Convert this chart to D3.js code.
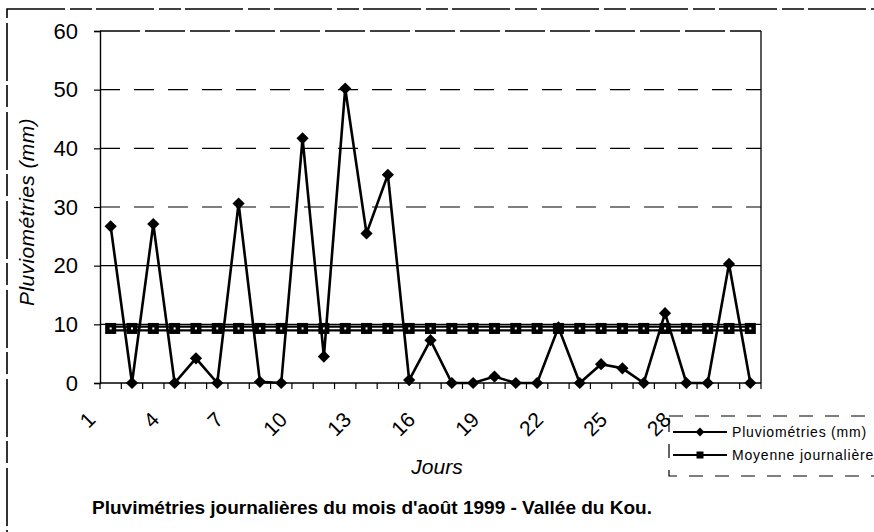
<!DOCTYPE html>
<html>
<head>
<meta charset="utf-8">
<script src="https://cdn.jsdelivr.net/npm/d3@7"></script>
<style>
  html, body { margin: 0; padding: 0; background: #fff; }
  svg { display: block; font-family: Arial, "Liberation Sans", sans-serif; }
</style>
</head>
<body>
<svg id="chart" width="874" height="532"></svg>
<script>
// Daily rainfall, August 1999, Vallée du Kou
const days = ["1","2","3","4","5","6","7","8","9","10","11","12","13","14","15","16",
              "17","18","19","20","21","22","23","24","25","26","27","28","29","30","31"];
const pluvio = [26.7, 0, 27.1, 0, 4.2, 0, 30.6, 0.2, 0, 41.7, 4.5, 50.2, 25.5, 35.5, 0.5, 7.3,
                0, 0, 1.1, 0, 0, 9.5, 0, 3.2, 2.5, 0, 11.9, 0, 0, 20.3, 0];
const moyenne = [9.3, 9.3, 9.3, 9.3, 9.3, 9.3, 9.3, 9.3, 9.3, 9.3, 9.3, 9.3, 9.3, 9.3, 9.3, 9.3,
                 9.3, 9.3, 9.3, 9.3, 9.3, 9.3, 9.3, 9.3, 9.3, 9.3, 9.3, 9.3, 9.3, 9.3, 9.3];
const xLabels = ["1","4","7","10","13","16","19","22","25","28"];
const yTicks = [0, 10, 20, 30, 40, 50, 60];
const seriesNames = ["Pluviométries (mm)", "Moyenne journalière"];

const svg = d3.select("#chart");
const plot = { left: 100, right: 761, top: 31, bottom: 383 };

const x = d3.scaleBand().domain(days).range([plot.left, plot.right]).padding(0);
const y = d3.scaleLinear().domain([0, 60]).range([plot.bottom, plot.top]);
const cx = d => x(d) + x.bandwidth() / 2;

// outer chart frame
svg.append("rect")
  .attr("x", 7).attr("y", 9).attr("width", 900).attr("height", 560)
  .attr("fill", "none").attr("stroke", "#000").attr("stroke-width", 1.6)
  .attr("stroke-dasharray", "58,5,22,4");

// horizontal gridlines
svg.append("g").selectAll("line")
  .data(yTicks.filter(v => v > 0))
  .join("line")
  .attr("x1", plot.left).attr("x2", plot.right)
  .attr("y1", d => y(d)).attr("y2", d => y(d))
  .attr("stroke", "#000").attr("stroke-width", d => d === 60 ? 1.4 : 1.1)
  .attr("stroke-dasharray", d => (d >= 30 && d < 60) ? "20,14" : (d === 60 ? "40,5" : null));

// right edge of the plot area
svg.append("line")
  .attr("x1", plot.right).attr("x2", plot.right)
  .attr("y1", plot.top).attr("y2", plot.bottom)
  .attr("stroke", "#000").attr("stroke-width", 1.3);

// y axis
const yAxis = svg.append("g")
  .attr("transform", `translate(${plot.left},0)`)
  .call(d3.axisLeft(y).tickValues(yTicks).tickSize(6).tickPadding(16).tickFormat(d3.format("d")));
yAxis.select(".domain").attr("stroke", "#000").attr("stroke-width", 1.4);
yAxis.selectAll(".tick line").attr("stroke", "#000").attr("stroke-width", 1.2);
yAxis.selectAll(".tick text")
  .attr("font-size", 22).attr("font-family", "Arial, 'Liberation Sans', sans-serif")
  .attr("fill", "#000");

// x axis line and category boundary ticks
svg.append("line")
  .attr("x1", plot.left).attr("x2", plot.right)
  .attr("y1", plot.bottom).attr("y2", plot.bottom)
  .attr("stroke", "#000").attr("stroke-width", 1.6);
svg.append("g").selectAll("line")
  .data(days.concat(["end"]))
  .join("line")
  .attr("x1", d => d === "end" ? plot.right : x(d))
  .attr("x2", d => d === "end" ? plot.right : x(d))
  .attr("y1", plot.bottom).attr("y2", plot.bottom + 6)
  .attr("stroke", "#000").attr("stroke-width", 1.2);

// rotated day labels
svg.append("g").selectAll("text")
  .data(xLabels)
  .join("text")
  .attr("transform", d => `translate(${cx(d) - 14},${plot.bottom + 38}) rotate(-45)`)
  .attr("text-anchor", "end")
  .attr("font-size", 21)
  .text(d => d);

// daily mean: double line with square markers
const meanLine = d3.line().x((d, i) => cx(days[i])).y(d => y(d));
svg.append("path").datum(moyenne)
  .attr("d", meanLine).attr("fill", "none")
  .attr("stroke", "#000").attr("stroke-width", 6);
svg.append("path").datum(moyenne)
  .attr("d", meanLine).attr("fill", "none")
  .attr("stroke", "#fff").attr("stroke-width", 1.6);
const sq = svg.append("g").selectAll("g")
  .data(moyenne)
  .join("g")
  .attr("transform", (d, i) => `translate(${cx(days[i])},${y(d)})`);
sq.append("rect").attr("x", -5.5).attr("y", -5.5).attr("width", 11).attr("height", 11).attr("fill", "#000");
sq.append("rect").attr("x", -1).attr("y", -1).attr("width", 2).attr("height", 2).attr("fill", "#fff");

// daily rainfall: line with diamond markers
const rainLine = d3.line().x((d, i) => cx(days[i])).y(d => y(d));
svg.append("path").datum(pluvio)
  .attr("d", rainLine).attr("fill", "none")
  .attr("stroke", "#000").attr("stroke-width", 2.6).attr("stroke-linejoin", "miter");
const diamond = d3.symbol().type(d3.symbolDiamond2).size(95);
svg.append("g").selectAll("path")
  .data(pluvio)
  .join("path")
  .attr("d", diamond)
  .attr("transform", (d, i) => `translate(${cx(days[i])},${y(d)})`)
  .attr("fill", "#000");

// axis titles
svg.append("text")
  .attr("transform", `translate(34,${(plot.top + plot.bottom) / 2 + 5}) rotate(-90)`)
  .attr("text-anchor", "middle")
  .attr("font-size", 21).attr("font-style", "italic").attr("letter-spacing", 0.4)
  .text("Pluviométries (mm)");
svg.append("text")
  .attr("x", 437).attr("y", 474)
  .attr("text-anchor", "middle")
  .attr("font-size", 21).attr("font-style", "italic")
  .text("Jours");

// chart title
svg.append("text")
  .attr("x", 372).attr("y", 514)
  .attr("text-anchor", "middle")
  .attr("font-size", 19).attr("font-weight", "bold")
  .text("Pluvimétries journalières du mois d'août 1999 - Vallée du Kou.");

// legend
const legend = svg.append("g");
legend.append("rect")
  .attr("x", 669).attr("y", 416).attr("width", 260).attr("height", 60)
  .attr("fill", "none").attr("stroke", "#000").attr("stroke-width", 1.2)
  .attr("stroke-dasharray", "14,12");
const legY = [432, 455];
legend.selectAll("line.entry")
  .data(seriesNames)
  .join("line")
  .attr("class", "entry")
  .attr("x1", 673).attr("x2", 727)
  .attr("y1", (d, i) => legY[i]).attr("y2", (d, i) => legY[i])
  .attr("stroke", "#000").attr("stroke-width", 2);
legend.append("path")
  .attr("d", d3.symbol().type(d3.symbolDiamond2).size(50))
  .attr("transform", `translate(700,${legY[0]})`)
  .attr("fill", "#000");
legend.append("rect")
  .attr("x", 696.5).attr("y", legY[1] - 3.5).attr("width", 7).attr("height", 7)
  .attr("fill", "#000");
legend.selectAll("text")
  .data(seriesNames)
  .join("text")
  .attr("x", 732).attr("y", (d, i) => legY[i] + 5)
  .attr("font-size", 14).attr("letter-spacing", 0.8)
  .text(d => d);
</script>
</body>
</html>
